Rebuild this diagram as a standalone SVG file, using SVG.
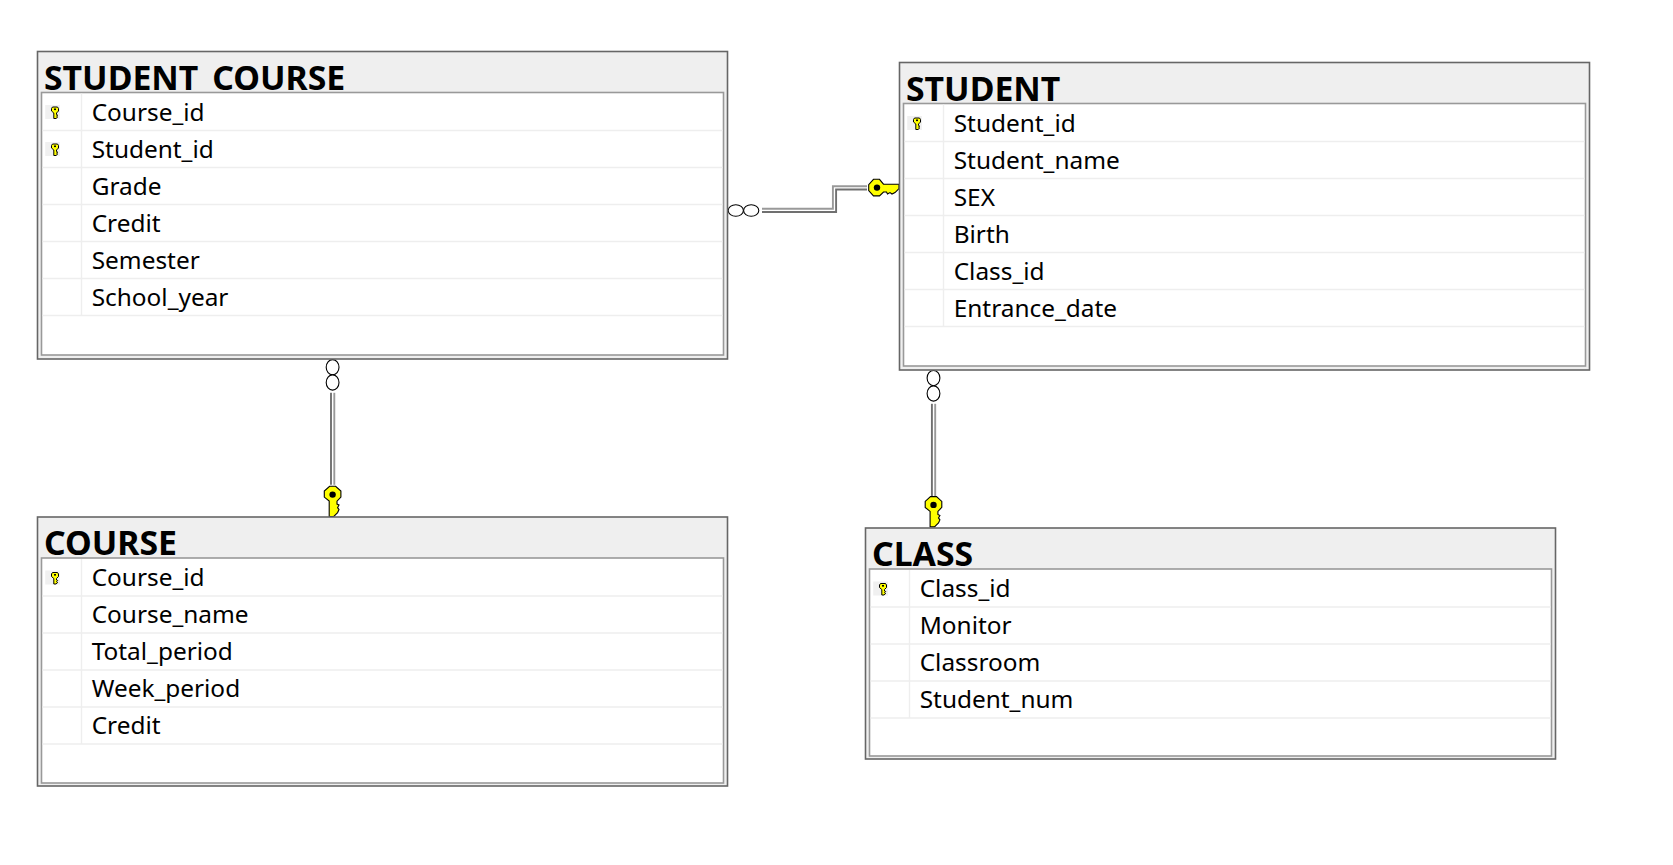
<svg xmlns="http://www.w3.org/2000/svg" width="1673" height="865" viewBox="0 0 1673 865">
<style>
.outer{fill:#efefef;stroke:#666;stroke-width:1.6}
.inner{fill:#fff;stroke:#999;stroke-width:1.6}
.sep{stroke:#eee;stroke-width:1.4;fill:none}
.title{font-family:"Noto Sans","Open Sans",sans-serif;font-weight:700;font-size:33.8px;fill:#000}
.col{font-family:"Noto Sans","Open Sans",sans-serif;font-size:24.4px;fill:#000}
.cell{fill:#f0f0f0}
.wire1{fill:none;stroke:#999;stroke-width:1.9}
.wire2{fill:none;stroke:#707070;stroke-width:1.9}
.ring{fill:#fff;stroke:#000;stroke-width:1.1}
.key{fill:#ff0;stroke:#000;stroke-width:1.1}
</style>
<defs>
<g id="bigKey">
<path class="key" d="M-3-8.3H3L8.3-3.5V2.5L4.4 6.5V9.5L6.4 10.5 5 13 6.4 15 5 18 3 20 1 22H-3.4V6.5L-8.3 2.5V-3.5Z"/>
<circle r="3.2" fill="#000"/>
</g>
<g id="smallKey">
<rect class="cell" x="-7.3" y="-7" width="14.7" height="14"/>
<path d="M0-5H5L6-3.5V-1L4 1V2.5L5.2 3 4 4.2 5.2 5 3.5 6.5H1.3V1L-1-1V-3.5Z" fill="#ff0" stroke="#000" stroke-width="1"/>
<rect x="1.5" y="-3.5" width="2" height="1.6" fill="#000"/>
</g>
</defs>

<g id="connectors">
<g id="fk-student">
<ellipse class="ring" cx="735.8" cy="210.5" rx="7.6" ry="5.8"/>
<ellipse class="ring" cx="751.2" cy="210.5" rx="7.6" ry="5.8"/>
<path class="wire1" d="M762 208.7H832.9V186.2H867"/>
<path class="wire2" d="M762 212H836.1V189.5H867"/>
<use href="#bigKey" transform="matrix(0 1 1 0 877 187.6)"/>
</g>
<g id="fk-course">
<ellipse class="ring" cx="332.6" cy="367.2" rx="6.4" ry="7.6"/>
<ellipse class="ring" cx="332.6" cy="382.5" rx="6.4" ry="7.6"/>
<path class="wire2" d="M331 392.8V484.8"/>
<path class="wire1" d="M334.3 392.8V484.8"/>
<use href="#bigKey" transform="translate(332.6 494.6)"/>
</g>
<g id="fk-class">
<ellipse class="ring" cx="933.5" cy="378.1" rx="6.4" ry="7.6"/>
<ellipse class="ring" cx="933.5" cy="393.5" rx="6.4" ry="7.6"/>
<path class="wire2" d="M931.9 403.8V496.2"/>
<path class="wire1" d="M935.2 403.8V496.2"/>
<use href="#bigKey" transform="translate(933.5 504.9)"/>
</g>
</g>

<g id="student_course" transform="translate(37.5 51.5)">
<rect class="outer" width="690" height="307.5"/>
<text class="title" x="6.5" y="38">STUDENT_COURSE</text>
<rect class="inner" x="4" y="41" width="682" height="262.5"/>
<path class="sep" d="M44 42V264M5 79H685M5 116H685M5 153H685M5 190H685M5 227H685M5 264H685"/>
<use href="#smallKey" transform="translate(15 60.5)"/>
<use href="#smallKey" transform="translate(15 97.5)"/>
<text class="col" x="54.2" y="69.2">Course_id</text>
<text class="col" x="54.2" y="106.2">Student_id</text>
<text class="col" x="54.2" y="143.2">Grade</text>
<text class="col" x="54.2" y="180.2">Credit</text>
<text class="col" x="54.2" y="217.2">Semester</text>
<text class="col" x="54.2" y="254.2">School_year</text>
</g>

<g id="student" transform="translate(899.5 62.5)">
<rect class="outer" width="690" height="307.5"/>
<text class="title" x="6.5" y="38">STUDENT</text>
<rect class="inner" x="4" y="41" width="682" height="262.5"/>
<path class="sep" d="M44 42V264M5 79H685M5 116H685M5 153H685M5 190H685M5 227H685M5 264H685"/>
<use href="#smallKey" transform="translate(15 60.5)"/>
<text class="col" x="54.2" y="69.2">Student_id</text>
<text class="col" x="54.2" y="106.2">Student_name</text>
<text class="col" x="54.2" y="143.2">SEX</text>
<text class="col" x="54.2" y="180.2">Birth</text>
<text class="col" x="54.2" y="217.2">Class_id</text>
<text class="col" x="54.2" y="254.2">Entrance_date</text>
</g>

<g id="course" transform="translate(37.5 517)">
<rect class="outer" width="690" height="269"/>
<text class="title" x="6.5" y="38">COURSE</text>
<rect class="inner" x="4" y="41" width="682" height="225"/>
<path class="sep" d="M44 42V227M5 79H685M5 116H685M5 153H685M5 190H685M5 227H685"/>
<use href="#smallKey" transform="translate(15 60.5)"/>
<text class="col" x="54.2" y="69.2">Course_id</text>
<text class="col" x="54.2" y="106.2">Course_name</text>
<text class="col" x="54.2" y="143.2">Total_period</text>
<text class="col" x="54.2" y="180.2">Week_period</text>
<text class="col" x="54.2" y="217.2">Credit</text>
</g>

<g id="class" transform="translate(865.5 528)">
<rect class="outer" width="690" height="231"/>
<text class="title" x="6.5" y="38">CLASS</text>
<rect class="inner" x="4" y="41" width="682" height="187"/>
<path class="sep" d="M44 42V190M5 79H685M5 116H685M5 153H685M5 190H685"/>
<use href="#smallKey" transform="translate(15 60.5)"/>
<text class="col" x="54.2" y="69.2">Class_id</text>
<text class="col" x="54.2" y="106.2">Monitor</text>
<text class="col" x="54.2" y="143.2">Classroom</text>
<text class="col" x="54.2" y="180.2">Student_num</text>
</g>
</svg>
